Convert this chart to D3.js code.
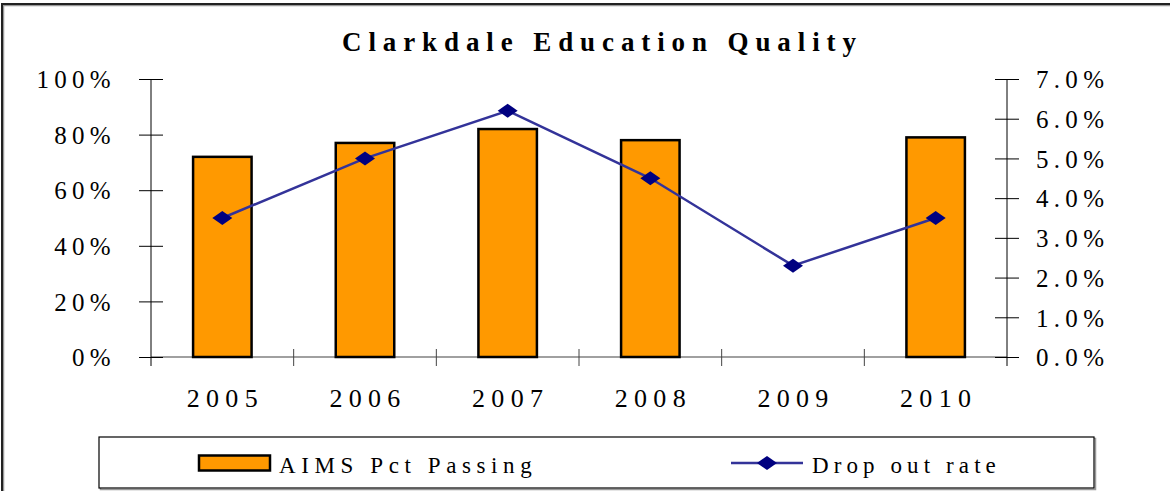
<!DOCTYPE html>
<html>
<head>
<meta charset="utf-8">
<script src="https://cdn.jsdelivr.net/npm/d3@7"></script>
<style>
  body { margin: 0; background: #fff; }
  svg, svg text { font-family: "Liberation Serif", Tinos, "Times New Roman", Times, "Nimbus Roman", "Nimbus Roman No9 L", FreeSerif, "Noto Serif", "DejaVu Serif", serif !important; }
</style>
</head>
<body>
<script>
// chart values
const years = ["2005", "2006", "2007", "2008", "2009", "2010"];
const aimsPassing = [0.72, 0.77, 0.82, 0.78, null, 0.79];
const dropoutRate = [0.035, 0.050, 0.062, 0.045, 0.023, 0.035];
const leftTicks = [0, 0.2, 0.4, 0.6, 0.8, 1.0];
const rightTicks = [0, 0.01, 0.02, 0.03, 0.04, 0.05, 0.06, 0.07];

const W = 1170, H = 491;
const plot = {left: 151, right: 1007, top: 79, bottom: 357};

const svg = d3.select("body").append("svg")
    .attr("width", W)
    .attr("height", H);

// outer frame (only top and left visible)
svg.append("path")
    .attr("d", "M3.5," + H + "V5.5H" + W)
    .attr("fill", "none").attr("stroke", "#999").attr("stroke-width", 1.5);
svg.append("path")
    .attr("d", "M2," + H + "V4H" + W)
    .attr("fill", "none").attr("stroke", "#222").attr("stroke-width", 2);

// title
svg.append("text")
    .attr("x", 342).attr("y", 51)
    .attr("font-size", 27).attr("font-weight", "bold")
    .attr("letter-spacing", 6.9)
    .text("Clarkdale Education Quality");

var x = d3.scaleBand()
    .domain(years)
    .range([plot.left, plot.right])
    .paddingInner(0.59)
    .paddingOuter(0.295);

var yLeft = d3.scaleLinear().domain([0, 1]).range([plot.bottom, plot.top]);
var yRight = d3.scaleLinear().domain([0, 0.07]).range([plot.bottom, plot.top]);

// category baseline
svg.append("line")
    .attr("x1", plot.left).attr("x2", plot.right)
    .attr("y1", plot.bottom).attr("y2", plot.bottom)
    .attr("stroke", "#808080").attr("stroke-width", 1.5);

// category separators
var bounds = years.slice(1).map(function(d) {
    return x(d) - x.step() * x.paddingInner() / 2;
});
svg.selectAll(".sep")
    .data(bounds)
    .enter().append("line")
    .attr("class", "sep")
    .attr("x1", function(d) { return d; })
    .attr("x2", function(d) { return d; })
    .attr("y1", plot.bottom - 8).attr("y2", plot.bottom + 9)
    .attr("stroke", "#444").attr("stroke-width", 1);

// bars
svg.selectAll(".bar")
    .data(years.map(function(d, i) { return {year: d, v: aimsPassing[i]}; })
        .filter(function(d) { return d.v != null; }))
    .enter().append("rect")
    .attr("class", "bar")
    .attr("x", function(d) { return x(d.year); })
    .attr("width", x.bandwidth())
    .attr("y", function(d) { return yLeft(d.v); })
    .attr("height", function(d) { return plot.bottom - yLeft(d.v); })
    .attr("fill", "#FF9900")
    .attr("stroke", "#000")
    .attr("stroke-width", 2.5);

// left axis
var leftAxis = svg.append("g")
    .attr("transform", "translate(" + plot.left + ",0)")
    .call(d3.axisLeft(yLeft).tickValues(leftTicks).tickFormat(d3.format(".0%")).tickSize(12).tickSizeOuter(0));
leftAxis.attr("font-family", null);
leftAxis.select(".domain").remove();
leftAxis.selectAll(".tick line").attr("x1", -12).attr("x2", 12).attr("stroke", "#000");
leftAxis.selectAll(".tick text")
    .attr("x", -35).attr("dy", "0.35em")
    .attr("font-size", 25)
    .attr("letter-spacing", 5.3).attr("fill", "#000");
leftAxis.append("line")
    .attr("y1", plot.top).attr("y2", plot.bottom + 9)
    .attr("stroke", "#000").attr("stroke-width", 1);

// right axis
var rightAxis = svg.append("g")
    .attr("transform", "translate(" + plot.right + ",0)")
    .call(d3.axisRight(yRight).tickValues(rightTicks).tickFormat(d3.format(".1%")).tickSize(12).tickSizeOuter(0));
rightAxis.attr("font-family", null);
rightAxis.select(".domain").remove();
rightAxis.selectAll(".tick line").attr("x1", -12).attr("x2", 12).attr("stroke", "#000");
rightAxis.selectAll(".tick text")
    .attr("x", 29).attr("dy", "0.35em")
    .attr("font-size", 25)
    .attr("letter-spacing", 5.3).attr("fill", "#000");
rightAxis.append("line")
    .attr("y1", plot.top).attr("y2", plot.bottom + 9)
    .attr("stroke", "#000").attr("stroke-width", 1);

// category labels
var bottomAxis = svg.append("g")
    .attr("transform", "translate(0," + plot.bottom + ")")
    .call(d3.axisBottom(x).tickSize(0));
bottomAxis.attr("font-family", null);
bottomAxis.select(".domain").remove();
bottomAxis.selectAll(".tick text")
    .attr("y", 50).attr("dy", 0).attr("dx", 3)
    .attr("font-size", 26)
    .attr("letter-spacing", 6.3).attr("fill", "#000");

// drop out line
var pts = years.map(function(d, i) { return {year: d, v: dropoutRate[i]}; });
var cx = function(d) { return x(d.year) + x.bandwidth() / 2; };

svg.append("path")
    .datum(pts)
    .attr("fill", "none")
    .attr("stroke", "#333399")
    .attr("stroke-width", 2.5)
    .attr("d", d3.line().x(cx).y(function(d) { return yRight(d.v); }));

function diamond(w, h) {
    return "M0," + (-h / 2) + "L" + (w / 2) + ",0L0," + (h / 2) + "L" + (-w / 2) + ",0Z";
}

svg.selectAll(".mark")
    .data(pts)
    .enter().append("path")
    .attr("class", "mark")
    .attr("transform", function(d) { return "translate(" + cx(d) + "," + yRight(d.v) + ")"; })
    .attr("d", diamond(20, 14))
    .attr("fill", "#000080");

// legend
var lg = svg.append("g");
lg.append("rect")
    .attr("x", 100.5).attr("y", 438.5).attr("width", 995).attr("height", 51)
    .attr("fill", "none").attr("stroke", "#999").attr("stroke-width", 1.5);
lg.append("rect")
    .attr("x", 99).attr("y", 437).attr("width", 995).attr("height", 51)
    .attr("fill", "#fff").attr("stroke", "#000").attr("stroke-width", 1.2);

lg.append("rect")
    .attr("x", 199).attr("y", 455.5).attr("width", 71).attr("height", 15)
    .attr("fill", "#FF9900").attr("stroke", "#000").attr("stroke-width", 2.5);
lg.append("text")
    .attr("x", 279).attr("y", 473)
    .attr("font-size", 23).attr("letter-spacing", 5.6)
    .text("AIMS Pct Passing");

lg.append("line")
    .attr("x1", 731).attr("x2", 803).attr("y1", 463).attr("y2", 463)
    .attr("stroke", "#333399").attr("stroke-width", 2.5);
lg.append("path")
    .attr("transform", "translate(767,463)")
    .attr("d", diamond(20, 14))
    .attr("fill", "#000080");
lg.append("text")
    .attr("x", 812).attr("y", 473)
    .attr("font-size", 23).attr("letter-spacing", 5.1)
    .text("Drop out rate");
</script>
</body>
</html>
